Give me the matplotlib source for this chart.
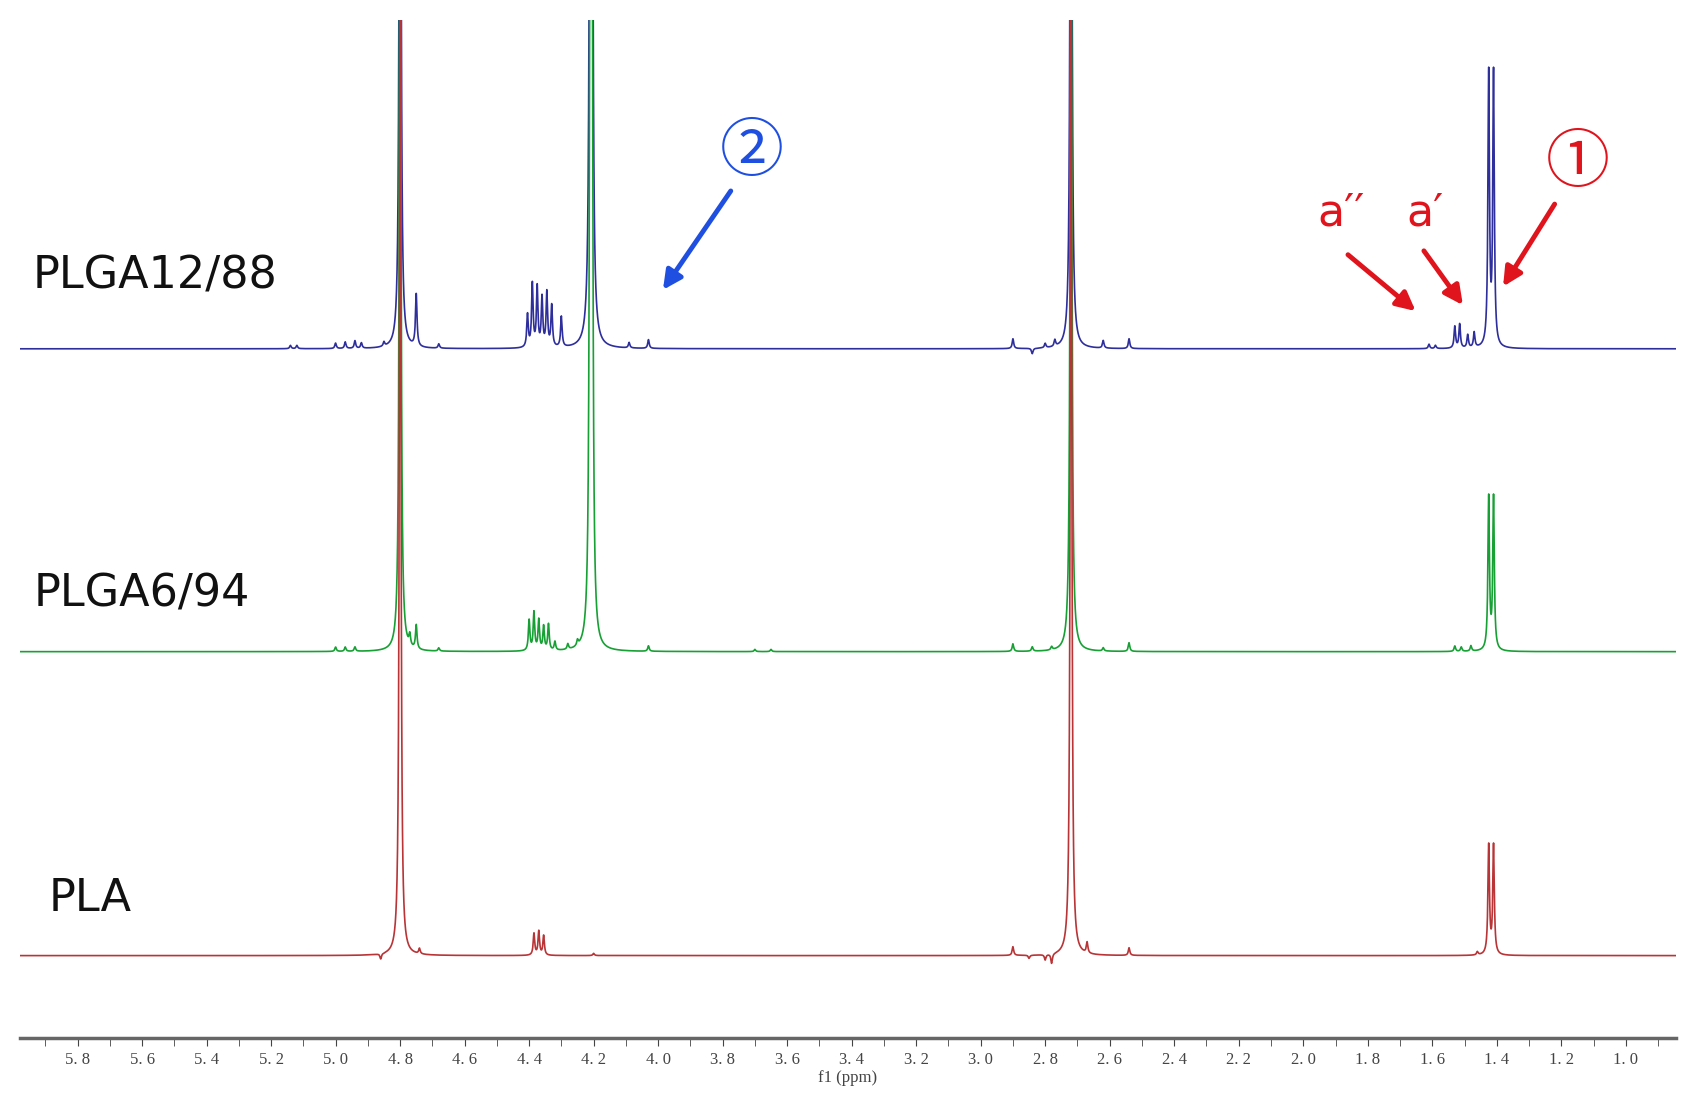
import numpy as np
import matplotlib.pyplot as plt

# peak lists (ppm, height) per spectrum, heights in display units above baseline
blue_peaks = [(5.14, 3), (5.12, 3), (5.00, 5), (4.97, 6), (4.94, 7), (4.92, 5), (4.85, 4),
              (4.80, 900), (4.75, 48), (4.68, 4),
              (4.405, 30), (4.39, 58), (4.375, 55), (4.36, 45), (4.345, 50), (4.33, 38), (4.30, 28),
              (4.21, 900), (4.205, 600), (4.09, 5), (4.03, 8),
              (2.90, 9), (2.84, -5), (2.80, 4), (2.77, 6), (2.72, 900), (2.62, 7), (2.54, 9),
              (1.61, 4), (1.59, 3), (1.53, 20), (1.515, 22), (1.49, 12), (1.47, 14),
              (1.425, 250), (1.41, 250)]
green_peaks = [(5.00, 4), (4.97, 4), (4.94, 4), (4.80, 900), (4.77, 10), (4.75, 22), (4.68, 3),
               (4.40, 28), (4.385, 35), (4.37, 28), (4.355, 22), (4.34, 24), (4.32, 8), (4.28, 5), (4.25, 5),
               (4.21, 900), (4.205, 600), (4.03, 5), (3.70, 2), (3.65, 2),
               (2.90, 7), (2.84, 4), (2.78, 3), (2.72, 900), (2.62, 3), (2.54, 8),
               (1.53, 5), (1.51, 4), (1.48, 5), (1.425, 140), (1.41, 140)]
red_peaks = [(4.86, -5), (4.80, 900), (4.74, 5),
             (4.385, 20), (4.37, 22), (4.355, 18), (4.20, 2),
             (2.90, 8), (2.85, -3), (2.80, -5), (2.78, -9), (2.72, 900), (2.67, 10), (2.54, 7),
             (1.46, 3), (1.425, 100), (1.41, 100)]

baselines = [633, 355, 76]
labels = ["PLGA12/88", "PLGA6/94", "PLA"]
colors = ["#2e2e9c", "#17a034", "#b83436"]
all_peaks = [blue_peaks, green_peaks, red_peaks]

x = np.linspace(0.84, 6.0, 30000)
gam = 0.0028

def spectrum(peaks):
    y = np.zeros_like(x)
    for p, h in peaks:
        y += h * gam**2 / ((x - p)**2 + gam**2)
    return y

fig = plt.figure(figsize=(16.97, 11), dpi=100)
ax = fig.add_axes([0.0115, 0.056, 0.976, 0.926])

for peaks, b, c in zip(all_peaks, baselines, colors):
    ax.plot(x, b + spectrum(peaks), color=c, lw=1.2)

ax.set_xlim(5.98, 0.845)
ax.set_ylim(0, 935)
for s in ["top", "left", "right"]:
    ax.spines[s].set_visible(False)
ax.spines["bottom"].set_color("#666666")
ax.spines["bottom"].set_linewidth(2.5)
ax.set_yticks([])
ticks = np.arange(1.0, 5.81, 0.2)
ax.set_xticks(ticks)
ax.set_xticks(np.arange(0.9, 5.91, 0.1), minor=True)
ax.set_xticklabels([f"{v:.1f}".replace(".", ". ") for v in ticks],
                   family="Liberation Serif", fontsize=12, color="#444444")
ax.tick_params(axis="x", direction="out", length=6, color="#444444", which="both")
ax.set_xlabel("f1 (ppm)", family="Liberation Serif", fontsize=12, color="#444444", labelpad=2)

label_y = [700, 408, 128]
label_x = [5.98 - 0.04, 5.98 - 0.045, 5.98 - 0.09]
for t, lx, ly in zip(labels, label_x, label_y):
    ax.text(lx, ly, t, fontsize=32, ha="left", va="center", color="#111111")

blue_ann = "#1f4fe0"
red_ann = "#e0141c"
cjk = ["Noto Sans CJK SC", "DejaVu Sans"]
ax.text(3.71, 813, "②", fontsize=46, color=blue_ann, ha="center", va="center", family=cjk)
ax.annotate("", xy=(3.99, 685), xytext=(3.77, 780),
            arrowprops=dict(arrowstyle="-|>", color=blue_ann, lw=3.5, mutation_scale=28))
ax.text(1.15, 803, "①", fontsize=46, color=red_ann, ha="center", va="center", family=cjk)
ax.annotate("", xy=(1.385, 688), xytext=(1.216, 768),
            arrowprops=dict(arrowstyle="-|>", color=red_ann, lw=3.5, mutation_scale=28))
ax.text(1.884, 758, "a′′", fontsize=32, color=red_ann, ha="center", va="center", family="DejaVu Sans")
ax.annotate("", xy=(1.645, 666), xytext=(1.868, 721),
            arrowprops=dict(arrowstyle="-|>", color=red_ann, lw=3.5, mutation_scale=28))
ax.text(1.621, 758, "a′", fontsize=32, color=red_ann, ha="center", va="center", family="DejaVu Sans")
ax.annotate("", xy=(1.50, 671), xytext=(1.631, 725),
            arrowprops=dict(arrowstyle="-|>", color=red_ann, lw=3.5, mutation_scale=28))

fig.savefig("out.png", dpi=100)
